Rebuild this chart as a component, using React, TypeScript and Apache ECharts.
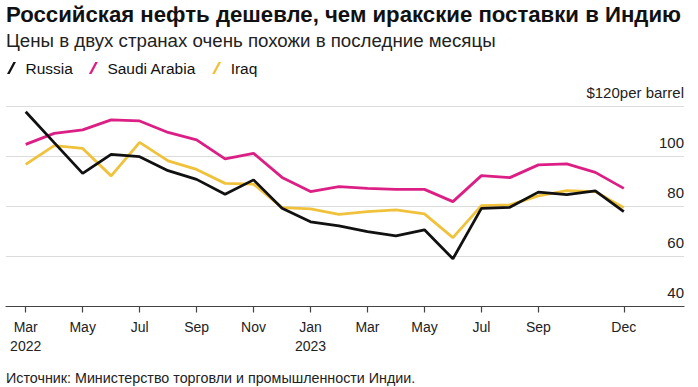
import React, { useEffect, useRef } from "react";
import * as echarts from "echarts";

const months = ["Mar", "Apr", "May", "Jun", "Jul", "Aug", "Sep", "Oct", "Nov", "Dec", "Jan", "Feb", "Mar", "Apr", "May", "Jun", "Jul", "Aug", "Sep", "Oct", "Nov", "Dec"];
const tickIndices = [0, 2, 4, 6, 8, 10, 12, 14, 16, 18, 21];
const yearLabels: Record<number, string> = { 0: "2022", 10: "2023" };

const russia = [118, 105.6, 93.3, 100.9, 100, 94.4, 90.9, 84.9, 90.7, 79.3, 73.9, 72.3, 70, 68.3, 70.7, 59.1, 79.3, 79.7, 85.8, 84.8, 86.3, 78];
const saudiArabia = [104.9, 109.3, 110.7, 114.7, 114.3, 109.7, 106.7, 99.1, 101.3, 91.7, 86, 88, 87.3, 86.9, 86.9, 82, 92.4, 91.6, 96.7, 97.1, 93.7, 87.3];
const iraq = [96.9, 104.4, 103.3, 92.3, 105.7, 98.3, 94.9, 89.3, 89, 79.6, 79.1, 76.9, 78, 78.7, 77.1, 67.6, 80.4, 80.7, 84.3, 86.4, 86, 79.6];

const titleText = "Российская нефть дешевле, чем иракские поставки в Индию";
const subtitleText = "Цены в двух странах очень похожи в последние месяцы";
const sourceText = "Источник: Министерство торговли и промышленности Индии.";

const FONT = "'Liberation Sans', Arial, sans-serif";
const BLACK = "#111111";
const PINK = "#dc1f85";
const YELLOW = "#f0c23c";

export default function App() {
  const ref = useRef<HTMLDivElement>(null);
  useEffect(() => {
    if (!ref.current) return;
    const chart = echarts.init(ref.current, undefined, { renderer: "svg" });
    const slash = "path://M0,12 L2.6,12 L9,0 L6.4,0 Z";
    chart.setOption({
      animation: false,
      backgroundColor: "#ffffff",
      textStyle: { fontFamily: FONT },
      title: [
        { text: titleText, left: 6, top: 3, padding: 0, textStyle: { fontSize: 22.2, fontWeight: "bold", color: "#111", fontFamily: FONT } },
        { text: subtitleText, left: 6, top: 31, padding: 0, textStyle: { fontSize: 18.7, fontWeight: "normal", color: "#222", fontFamily: FONT } },
        { text: sourceText, left: 6, top: 371, padding: 0, textStyle: { fontSize: 14.3, fontWeight: "normal", color: "#222", fontFamily: FONT } },
      ],
      legend: {
        left: 7,
        top: 60,
        padding: 0,
        itemWidth: 10,
        itemHeight: 12,
        itemGap: 16,
        icon: slash,
        data: ["Russia", "Saudi Arabia", "Iraq"],
        textStyle: { fontSize: 15.5, color: "#111", fontFamily: FONT, padding: [0, 0, 0, 4] },
      },
      grid: [
        { left: 6, right: 14, top: 106.7, bottom: 80.5 },
        { left: 25.7, right: 74.2, top: 106.7, bottom: 80.5 },
      ],
      xAxis: [
        {
          type: "value",
          gridIndex: 0,
          min: 0,
          max: 1,
          axisLine: { show: true, lineStyle: { color: "#444", width: 1.2 } },
          axisTick: { show: false },
          axisLabel: { show: false },
          splitLine: { show: false },
        },
        {
          type: "category",
          gridIndex: 1,
          data: months,
          boundaryGap: false,
          axisLine: { show: false },
          axisTick: {
            show: true,
            alignWithLabel: true,
            length: 6,
            interval: (i: number) => tickIndices.includes(i),
            lineStyle: { color: "#444", width: 1.2 },
          },
          axisLabel: {
            interval: (i: number) => tickIndices.includes(i),
            formatter: (v: string, i: number) => (yearLabels[i] ? `${v}\n${yearLabels[i]}` : v),
            fontSize: 14,
            lineHeight: 19,
            color: "#222",
            margin: 11,
            fontFamily: FONT,
          },
          splitLine: { show: false },
        },
      ],
      yAxis: [
        {
          type: "value",
          gridIndex: 0,
          position: "right",
          min: 40,
          max: 120,
          interval: 20,
          axisLine: { show: false },
          axisTick: { show: false },
          splitLine: { show: true, lineStyle: { color: "#dcdcdc", width: 1 } },
          axisLabel: {
            inside: true,
            align: "right",
            verticalAlign: "bottom",
            margin: 0,
            padding: [0, 0, 7, 0],
            fontSize: 15,
            color: "#222",
            fontFamily: FONT,
            formatter: (v: number) => (v === 120 ? "$120per barrel" : String(v)),
          },
        },
        {
          type: "value",
          gridIndex: 1,
          min: 40,
          max: 120,
          show: false,
          splitLine: { show: false },
        },
      ],
      series: [
        { name: "Saudi Arabia", type: "line", xAxisIndex: 1, yAxisIndex: 1, data: saudiArabia, showSymbol: false, lineStyle: { color: PINK, width: 2.8 }, itemStyle: { color: PINK } },
        { name: "Iraq", type: "line", xAxisIndex: 1, yAxisIndex: 1, data: iraq, showSymbol: false, lineStyle: { color: YELLOW, width: 2.8 }, itemStyle: { color: YELLOW } },
        { name: "Russia", type: "line", xAxisIndex: 1, yAxisIndex: 1, data: russia, showSymbol: false, lineStyle: { color: BLACK, width: 2.8 }, itemStyle: { color: BLACK } },
      ],
    });
    return () => chart.dispose();
  }, []);
  return <div ref={ref} style={{ width: 698, height: 387, position: "absolute", left: 0, top: 0 }} />;
}
